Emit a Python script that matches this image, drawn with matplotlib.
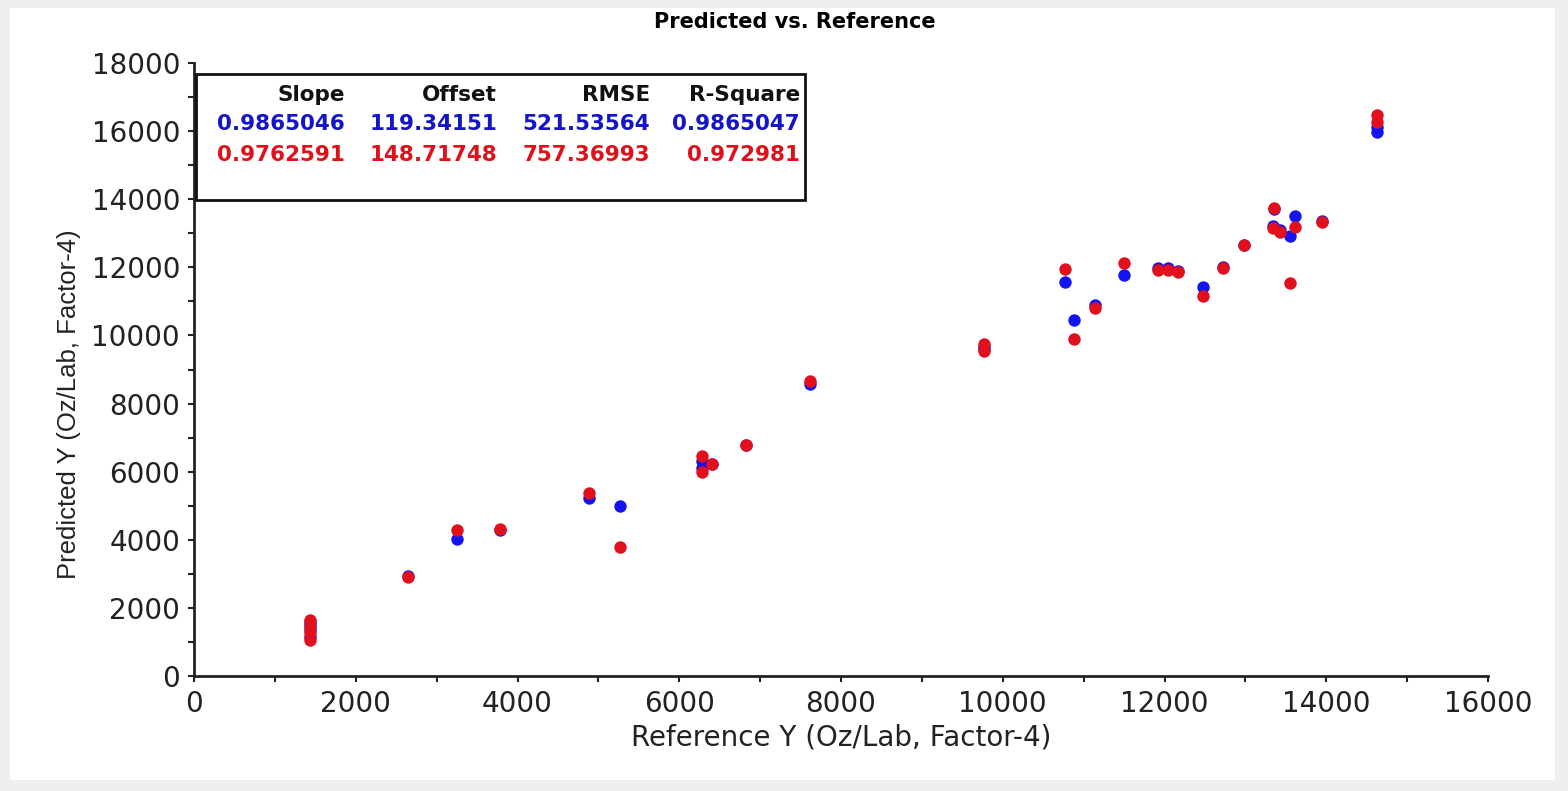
import matplotlib
matplotlib.use("Agg")
import matplotlib.pyplot as plt
from matplotlib.patches import Rectangle
from matplotlib.ticker import MultipleLocator

# reference values and the two sets of predictions
ref_y = [1430, 1430, 1430, 1430, 2646, 3252, 3784, 4884, 5267, 6281, 6405, 6281,
         6825, 7617, 9770, 9770, 10770, 10881, 11141, 11499, 11920, 12044, 12167,
         12476, 12727, 12983, 13360, 13342, 13428, 13608, 13548, 13948, 14627, 14627]
pred_blue = [1150, 1350, 1500, 1600, 2950, 4030, 4280, 5230, 4990, 6300, 6230, 6100,
             6780, 8580, 9600, 9650, 11570, 10450, 10890, 11780, 11980, 11990, 11900,
             11420, 12000, 12660, 13700, 13200, 13100, 13500, 12920, 13360, 16120, 15970]
pred_red = [1050, 1250, 1450, 1650, 2920, 4280, 4330, 5380, 3790, 6460, 6225, 5990,
            6780, 8650, 9750, 9550, 11950, 9900, 10810, 12120, 11930, 11930, 11860,
            11160, 11980, 12650, 13740, 13150, 13040, 13190, 11540, 13330, 16470, 16270]

stat_names = ["Slope", "Offset", "RMSE", "R-Square"]
stats_blue = ["0.9865046", "119.34151", "521.53564", "0.9865047"]
stats_red = ["0.9762591", "148.71748", "757.36993", "0.972981"]

W, H = 1568, 791
fig = plt.figure(figsize=(W / 100, H / 100), dpi=100, facecolor="#efefef")
# white panel inside the grey frame
fig.patches.append(Rectangle((10 / W, 1 - 780 / H), (1555 - 10) / W, (780 - 8) / H,
                             transform=fig.transFigure, facecolor="white",
                             edgecolor="none", zorder=-1))

ax = fig.add_axes([194 / W, 1 - 676 / H, (1488 - 194) / W, (676 - 63) / H])
ax.set_facecolor("none")

ax.scatter(ref_y, pred_blue, s=80, color="#1414f0", zorder=3, linewidths=0)
ax.scatter(ref_y, pred_red, s=80, color="#e0101c", zorder=4, linewidths=0)

ax.set_xlim(0, 16000)
ax.set_ylim(0, 18000)
ax.xaxis.set_major_locator(MultipleLocator(2000))
ax.xaxis.set_minor_locator(MultipleLocator(1000))
ax.yaxis.set_major_locator(MultipleLocator(2000))
ax.yaxis.set_minor_locator(MultipleLocator(1000))
for s in ["top", "right"]:
    ax.spines[s].set_visible(False)
for s in ["left", "bottom"]:
    ax.spines[s].set_linewidth(2)
    ax.spines[s].set_color("#222222")
ax.tick_params(which="both", direction="out", length=4, width=1.5, color="#222222",
               labelsize=20, labelcolor="#222222", pad=6)

ax.set_xlabel("Reference Y (Oz/Lab, Factor-4)", fontsize=20, color="#222222", labelpad=4)
ax.set_ylabel("Predicted Y (Oz/Lab, Factor-4)", fontsize=18.5, color="#222222",
              family="Liberation Sans")
ax.yaxis.set_label_coords(-0.087, 0.444)

fig.text(795 / W, 1 - 22 / H, "Predicted vs. Reference", ha="center", va="center",
         fontsize=15, fontweight="bold")

# stats box
fig.patches.append(Rectangle((196 / W, 1 - 200 / H), (805 - 196) / W, (200 - 74) / H,
                             transform=fig.transFigure, facecolor="white",
                             edgecolor="#111111", linewidth=2, zorder=5))
col_right = [345, 497, 650, 800]
rows = [(95, stat_names, "#111111"), (124, stats_blue, "#1414c8"), (155, stats_red, "#e0101a")]
for yy, texts, c in rows:
    for xr, t in zip(col_right, texts):
        fig.text(xr / W, 1 - yy / H, t, ha="right", va="center", fontsize=15.5,
                 fontweight="bold", color=c, zorder=6)

fig.savefig("out.png", dpi=100, facecolor=fig.get_facecolor())
